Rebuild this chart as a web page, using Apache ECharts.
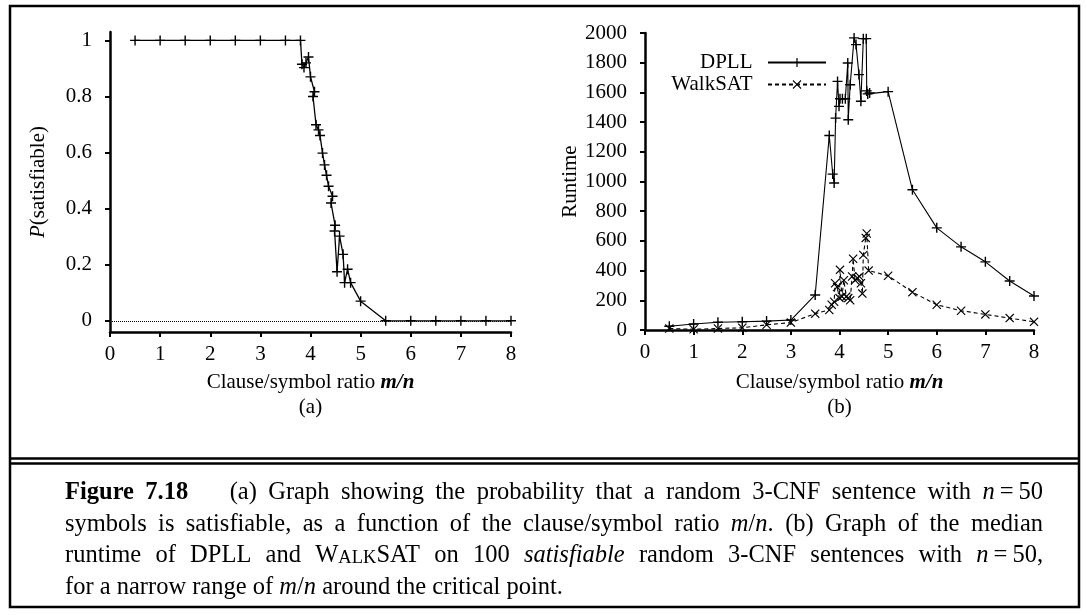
<!DOCTYPE html>
<html><head><meta charset="utf-8">
<script src="https://cdn.jsdelivr.net/npm/echarts@6/dist/echarts.min.js"></script>
<style>html,body{margin:0;padding:0;background:#fff}#c{width:1087px;height:615px}</style>
</head><body><div id="c"></div>
<script>
// ---------- data ----------
const xTickValues = [0, 1, 2, 3, 4, 5, 6, 7, 8];
const probTicks = [0, 0.2, 0.4, 0.6, 0.8, 1];
const runtimeTicks = [0, 200, 400, 600, 800, 1000, 1200, 1400, 1600, 1800, 2000];

const probX = [0.5,1,1.5,2,2.5,3,3.5,3.8,3.83,3.87,3.91,3.96,4.0,4.08,4.05,4.11,4.16,4.19,4.24,4.28,4.32,4.36,4.44,4.41,4.49,4.48,4.53,4.58,4.65,4.68,4.74,4.8,5.0,5.5,6,6.5,7,7.5,8];
const probY = [1,1,1,1,1,1,1,1,0.915,0.903,0.92,0.941,0.87,0.817,0.80,0.699,0.681,0.661,0.598,0.556,0.519,0.48,0.444,0.42,0.341,0.32,0.175,0.302,0.237,0.136,0.184,0.136,0.07,0,0,0,0,0,0];

const dpllX = [0.5,1,1.5,2,2.5,3,3.5,3.79,3.86,3.89,3.92,3.96,3.99,4.01,4.06,4.12,4.17,4.18,4.22,4.3,4.34,4.4,4.44,4.49,4.55,4.56,4.58,4.62,5.0,5.5,6,6.5,7,7.5,8];
const dpllY = [25,40,52,56,60,67,236,1310,1050,990,1427,1674,1506,1557,1557,1557,1798,1416,1652,1967,1922,1720,1540,1962,1962,1610,1590,1596,1605,944,688,560,459,330,229];

const walkX = [0.5,1,1.5,2,2.5,3,3.5,3.79,3.84,3.89,3.91,3.95,4.0,4.01,4.05,4.09,4.14,4.18,4.22,4.26,4.28,4.32,4.37,4.41,4.44,4.47,4.49,4.54,4.56,4.6,5.0,5.5,6,6.5,7,7.5,8];
const walkY = [10,5,10,15,35,50,110,135,170,190,315,290,215,405,225,335,225,215,200,360,480,335,350,360,315,245,505,620,650,400,365,255,170,130,105,80,55];

const seriesNames = ['DPLL', 'WalkSAT'];
const panelLabels = ['(a)', '(b)'];
const captionLines = [
  '#Figure# #7.18#| (a) Graph showing the probability that a random 3-CNF sentence with *n*_=_50',
  'symbols is satisfiable, as a function of the clause/symbol ratio *m*/*n*. (b) Graph of the median',
  'runtime of DPLL and W~ALK~SAT on 100 *satisfiable* random 3-CNF sentences with *n*_=_50,',
  'for a narrow range of *m*/*n* around the critical point.'
];

// ---------- helpers ----------
const SERIF = '"Liberation Serif","Times New Roman",serif';
const zip = (a, b) => a.map((v, i) => [v, b[i]]);
const PLUS = 'path://M0,4.3H10V5.7H0Z M4.3,0H5.7V10H4.3Z';
const CROSS = 'path://M0.9,0L5,4.1L9.1,0L10,0.9L5.9,5L10,9.1L9.1,10L5,5.9L0.9,10L0,9.1L4.1,5L0,0.9Z';
const FS = 21;
const txt = {fontFamily: SERIF, fontSize: FS, color: '#000'};
const plain = v => String(v);
function xAxisCfg(idx, gap) {
  return {
    type: 'value', gridIndex: idx, min: 0, max: 8, interval: 1,
    axisLine: {onZero: false, lineStyle: {color: '#000', width: 2.5}},
    axisTick: {length: 5, lineStyle: {color: '#000', width: 2}},
    axisLabel: Object.assign({margin: 12, formatter: plain}, txt),
    splitLine: {show: false},
    name: '{a|Clause/symbol ratio }{b|m/n}', nameLocation: 'middle', nameGap: gap,
    nameTextStyle: {rich: {a: Object.assign({}, txt), b: Object.assign({fontStyle: 'italic', fontWeight: 'bold'}, txt)}}
  };
}

// ---------- caption layout (justified) ----------
const ctx = document.createElement('canvas').getContext('2d');
const CAP = 24.5;
function fontOf(k) {
  const size = k === 's' ? 18.5 : CAP;
  return (k === 'i' ? 'italic ' : '') + (k === 'b' ? 'bold ' : '') + size + 'px ' + SERIF;
}
function parseWord(w) {
  return w.split(/(\*[^*]*\*|#[^#]*#|~[^~]*~|_)/).filter(s => s.length).map(s => {
    if (s === '_') return {t: '', k: 'sp'};
    if (s[0] === '*') return {t: s.slice(1, -1), k: 'i'};
    if (s[0] === '#') return {t: s.slice(1, -1), k: 'b'};
    if (s[0] === '~') return {t: s.slice(1, -1).toUpperCase(), k: 's'};
    return {t: s, k: 'r'};
  });
}
function segW(s) { if (s.k === 'sp') return 5; ctx.font = fontOf(s.k); return ctx.measureText(s.t).width; }

const capGraphics = [];
const capX0 = 65, capX1 = 1043, capY = [493, 524.5, 556, 587.5];
captionLines.forEach((line, li) => {
  const words = line.split(' ').map(w => {
    let extra = 0;
    if (w.endsWith('|')) { w = w.slice(0, -1); extra = 30; }
    const segs = parseWord(w);
    return {segs, extra, w: segs.reduce((a, s) => a + segW(s), 0)};
  });
  const total = words.reduce((a, w) => a + w.w + w.extra, 0);
  const justify = li < captionLines.length - 1;
  ctx.font = fontOf('r');
  const natural = ctx.measureText(' ').width;
  const space = justify ? Math.max(3.5, (capX1 - capX0 - total) / (words.length - 1)) : natural;
  let x = capX0;
  words.forEach(wd => {
    let sx = x;
    wd.segs.forEach(s => {
      const w = segW(s);
      if (s.k !== 'sp') {
        capGraphics.push({type: 'text', x: sx, y: capY[li] + (s.k === 's' ? 1.9 : 0), silent: true,
          style: {text: s.t, font: fontOf(s.k), fill: '#000', align: 'left', verticalAlign: 'middle'}});
      }
      sx += w;
    });
    x += wd.w + wd.extra + space;
  });
});

// ---------- chart ----------
const chart = echarts.init(document.getElementById('c'), null, {renderer: 'canvas'});
chart.setOption({
  animation: false,
  backgroundColor: '#fff',
  grid: [
    {left: 110, top: 32, width: 401, height: 300, outerBoundsMode: 'none'},
    {left: 645, top: 33, width: 389, height: 297, outerBoundsMode: 'none'}
  ],
  xAxis: [xAxisCfg(0, 40), xAxisCfg(1, 42)],
  yAxis: [
    {
      type: 'value', gridIndex: 0, min: -0.04, max: 1.03,
      axisLine: {onZero: false, lineStyle: {color: '#000', width: 2.5}},
      axisTick: {length: 5, customValues: probTicks, lineStyle: {color: '#000', width: 2}},
      axisLabel: Object.assign({margin: 18, customValues: probTicks, formatter: plain}, txt),
      splitLine: {show: false},
      name: '{i|P}{a|(satisfiable)}', nameLocation: 'middle', nameRotate: 90, nameGap: 61,
      nameTextStyle: {rich: {a: Object.assign({}, txt), i: Object.assign({fontStyle: 'italic'}, txt)}}
    },
    {
      type: 'value', gridIndex: 1, min: runtimeTicks[0], max: runtimeTicks[runtimeTicks.length - 1], interval: 200,
      axisLine: {onZero: false, lineStyle: {color: '#000', width: 2.5}},
      axisTick: {length: 5, lineStyle: {color: '#000', width: 2}},
      axisLabel: Object.assign({margin: 18, formatter: plain}, txt),
      splitLine: {show: false},
      name: 'Runtime', nameLocation: 'middle', nameRotate: 90, nameGap: 53,
      nameTextStyle: Object.assign({}, txt)
    }
  ],
  legend: {
    data: seriesNames, orient: 'vertical', align: 'right', right: 255, top: 47,
    itemWidth: 58, itemHeight: 11, itemGap: 1, selectedMode: false,
    formatter: '{name}  ',
    textStyle: Object.assign({}, txt)
  },
  series: [
    {
      type: 'line', name: 'P', xAxisIndex: 0, yAxisIndex: 0, data: zip(probX, probY),
      symbol: PLUS, symbolSize: 10, itemStyle: {color: '#000'},
      lineStyle: {color: '#000', width: 1.3},
      markLine: {symbol: 'none', silent: true, label: {show: false},
        lineStyle: {type: 'dotted', color: '#000', width: 1},
        data: [[{coord: [xTickValues[0], 0]}, {coord: [xTickValues[xTickValues.length - 1], 0]}]]}
    },
    {
      type: 'line', name: seriesNames[0], xAxisIndex: 1, yAxisIndex: 1, data: zip(dpllX, dpllY),
      symbol: PLUS, symbolSize: 10, itemStyle: {color: '#000'},
      lineStyle: {color: '#000', width: 1.1}
    },
    {
      type: 'line', name: seriesNames[1], xAxisIndex: 1, yAxisIndex: 1, data: zip(walkX, walkY),
      symbol: CROSS, symbolSize: 9, itemStyle: {color: '#000'},
      lineStyle: {color: '#000', width: 1.1, type: [4, 3]}
    }
  ],
  graphic: [
    {type: 'rect', silent: true, shape: {x: 10, y: 6, width: 1069, height: 601}, style: {fill: 'none', stroke: '#000', lineWidth: 2.5}},
    {type: 'line', silent: true, shape: {x1: 10, y1: 458.5, x2: 1079, y2: 458.5}, style: {stroke: '#000', lineWidth: 2.5}},
    {type: 'line', silent: true, shape: {x1: 10, y1: 463.5, x2: 1079, y2: 463.5}, style: {stroke: '#000', lineWidth: 2.5}},
    {type: 'text', silent: true, x: 310.5, y: 407, style: {text: panelLabels[0], font: FS + 'px ' + SERIF, fill: '#000', align: 'center', verticalAlign: 'middle'}},
    {type: 'text', silent: true, x: 839.5, y: 407, style: {text: panelLabels[1], font: FS + 'px ' + SERIF, fill: '#000', align: 'center', verticalAlign: 'middle'}}
  ].concat(capGraphics)
});
</script>
</body></html>
